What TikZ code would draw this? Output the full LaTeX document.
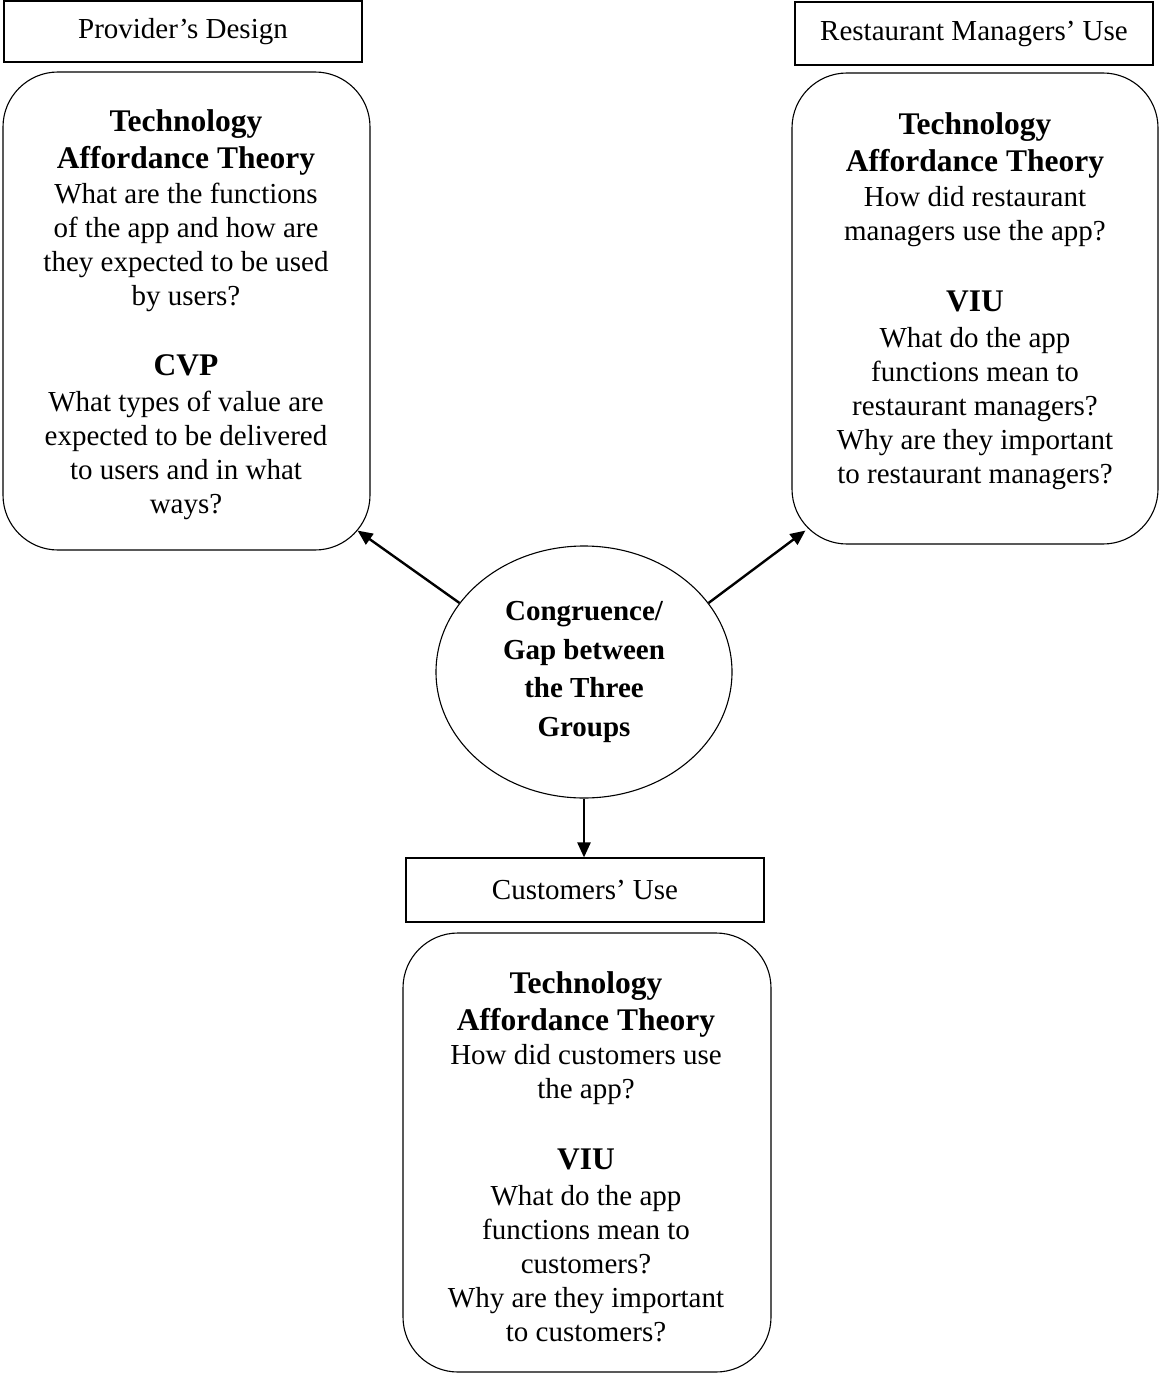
\documentclass[tikz,border=0pt]{standalone}
\usepackage{fontspec}
\setmainfont{Liberation Serif}
\usetikzlibrary{shapes.geometric,arrows.meta}
\newcommand{\hd}{\fontsize{31.5}{34}\selectfont\bfseries}
\tikzset{
  lbl/.style={draw, line width=1.1pt, minimum width=358pt, inner sep=0pt,
     font=\fontsize{29}{34}\selectfont},
  rbox/.style={draw, line width=1.1pt, rounded corners=55pt, inner sep=0pt},
  body/.style={align=center, inner sep=0pt, anchor=north,
     font=\fontsize{29}{34}\selectfont},
  arr/.style={line width=2.4pt, -{Triangle[length=15pt,width=13pt]}}
}
\begin{document}
\begin{tikzpicture}[x=1pt,y=-1pt]
\useasboundingbox (0,0) rectangle (1160,1375);

% labels
\node[lbl, minimum height=61pt] (pd) at (183,31.5) {Provider’s Design};
\node[lbl, minimum height=63pt] (rm) at (974,33.5) {Restaurant Managers’ Use};
\node[lbl, minimum height=64pt] (cu) at (585,890) {Customers’ Use};

% rounded boxes
\node[rbox, minimum width=367pt, minimum height=478pt] (lbox) at (186.5,311) {};
\node[rbox, minimum width=366pt, minimum height=471pt] (rbox) at (975,308.5) {};
\node[rbox, minimum width=368pt, minimum height=439pt] (bbox) at (587,1152.5) {};

% box texts
\node[body] (ltext) at (186,109) {%
{\hd Technology}\\[3pt]
{\hd Affordance Theory}\\[1pt]
What are the functions\\
of the app and how are\\
they expected to be used\\
by users?\\[36pt]
{\hd CVP}\\[2pt]
What types of value are\\
expected to be delivered\\
to users and in what\\
ways?};

\node[body] (rtext) at (975,112) {%
{\hd Technology}\\[3pt]
{\hd Affordance Theory}\\[1pt]
How did restaurant\\
managers use the app?\\[37pt]
{\hd VIU}\\[2pt]
What do the app\\
functions mean to\\
restaurant managers?\\
Why are they important\\
to restaurant managers?};

\node[body] (btext) at (586,971) {%
{\hd Technology}\\[3pt]
{\hd Affordance Theory}\\
How did customers use\\
the app?\\[37pt]
{\hd VIU}\\[2pt]
What do the app\\
functions mean to\\
customers?\\
Why are they important\\
to customers?};

% central ellipse
\node[ellipse, draw, line width=1.1pt, minimum width=296pt, minimum height=252pt,
      inner sep=0pt, align=center, font=\fontsize{29}{38.5}\selectfont\bfseries]
      (ell) at (584,672) {Congruence/\\Gap between\\the Three\\Groups};

% arrows
\draw[arr] (ell.151) -- ([xshift=-13pt,yshift=20pt]lbox.south east);
\draw[arr] (ell.29) -- ([xshift=14pt,yshift=14pt]rbox.south west);
\draw[arr] (ell.south) -- (ell.south |- cu.north);
\end{tikzpicture}
\end{document}
